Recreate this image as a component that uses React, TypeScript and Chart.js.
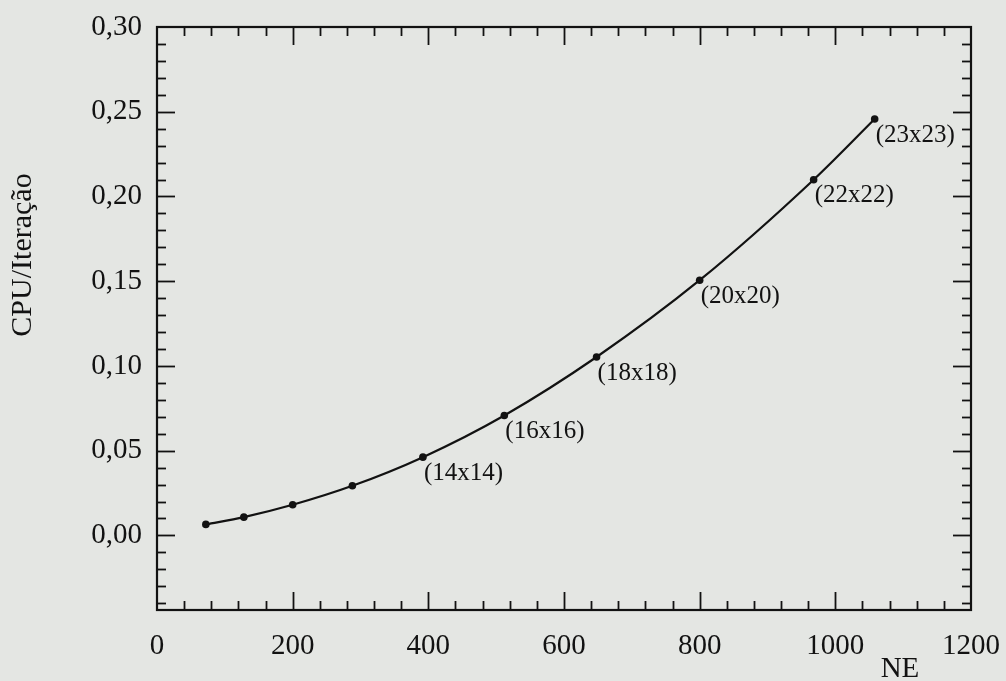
import React, { useEffect, useRef } from "react";
import { Chart, registerables } from "chart.js";

Chart.register(...registerables);

// ---- data ----
const neValues = [72, 128, 200, 288, 392, 512, 648, 800, 968, 1058];
const cpuPerIteration = [0.0065, 0.0108, 0.0181, 0.0293, 0.0462, 0.0708, 0.1053, 0.1506, 0.2099, 0.2457];
const meshLabels = ["", "", "", "", "(14x14)", "(16x16)", "(18x18)", "(20x20)", "(22x22)", "(23x23)"];
const xTickValues = [0, 200, 400, 600, 800, 1000, 1200];
const yTickValues = [0, 0.05, 0.1, 0.15, 0.2, 0.25, 0.3];
const xTitle = "NE";
const yTitle = "CPU/Iteração";

const INK = "#121212";
const BG = "#e4e6e3";
const FONT = "'Liberation Serif', 'Times New Roman', serif";

const bgPlugin = {
  id: "bg",
  beforeDraw(chart: any) {
    const ctx = chart.ctx;
    ctx.save();
    ctx.fillStyle = BG;
    ctx.fillRect(0, 0, chart.width, chart.height);
    ctx.restore();
  },
};

const framePlugin = {
  id: "frame",
  afterDraw(chart: any) {
    const ctx = chart.ctx;
    const xs = chart.scales.x;
    const ys = chart.scales.y;
    const { left, right, top, bottom } = chart.chartArea;
    ctx.save();
    ctx.strokeStyle = INK;
    ctx.lineWidth = 1.8;
    const line = (x1: number, y1: number, x2: number, y2: number) => {
      ctx.beginPath();
      ctx.moveTo(x1, y1);
      ctx.lineTo(x2, y2);
      ctx.stroke();
    };
    // x minor ticks every 40, major every 200
    for (let k = 1; k < 30; k++) {
      const v = k * 40;
      const major = k % 5 === 0;
      const L = major ? 18 : 9;
      const px = Math.round(xs.getPixelForValue(v)) + 0.5;
      line(px, bottom, px, bottom - L);
      line(px, top, px, top + L);
    }
    // y minor ticks every 0.01, major every 0.05
    for (let k = -4; k < 30; k++) {
      const v = k / 100;
      const major = k % 5 === 0;
      const L = major ? 18 : 9;
      const py = Math.round(ys.getPixelForValue(v)) + 0.5;
      line(left, py, left + L, py);
      line(right, py, right - L, py);
    }
    ctx.lineWidth = 2.2;
    ctx.strokeRect(left, top, right - left, bottom - top);

    // titles
    ctx.fillStyle = INK;
    ctx.font = `29px ${FONT}`;
    ctx.textAlign = "center";
    ctx.textBaseline = "alphabetic";
    ctx.fillText(xTitle, 900, 677);

    ctx.save();
    ctx.translate(23, 255);
    ctx.rotate(-Math.PI / 2);
    ctx.textBaseline = "middle";
    ctx.font = `30px ${FONT}`;
    ctx.fillText(yTitle, 0, 0);
    ctx.restore();

    // point annotations
    const meta = chart.getDatasetMeta(0);
    ctx.font = `25px ${FONT}`;
    ctx.textAlign = "left";
    ctx.textBaseline = "middle";
    meta.data.forEach((pt: any, i: number) => {
      const label = meshLabels[i];
      if (label) ctx.fillText(label, pt.x + 1, pt.y + 16);
    });
    ctx.restore();
  },
};

export default function App() {
  const ref = useRef<HTMLCanvasElement | null>(null);
  useEffect(() => {
    if (!ref.current) return;
    const chart = new Chart(ref.current, {
      type: "line",
      data: {
        datasets: [
          {
            data: neValues.map((x, i) => ({ x, y: cpuPerIteration[i] })),
            borderColor: INK,
            backgroundColor: INK,
            borderWidth: 2.2,
            pointRadius: 3.8,
            pointBackgroundColor: INK,
            pointBorderWidth: 0,
            cubicInterpolationMode: "monotone",
            fill: false,
          },
        ],
      },
      options: {
        animation: false,
        responsive: true,
        maintainAspectRatio: false,
        devicePixelRatio: 1,
        layout: { padding: { top: 27, right: 35, left: 0, bottom: 0 } },
        plugins: { legend: { display: false }, tooltip: { enabled: false } },
        scales: {
          x: {
            type: "linear",
            min: 0,
            max: 1200,
            grid: {
              display: true,
              drawOnChartArea: false,
              drawTicks: true,
              tickLength: 19,
              color: "rgba(0,0,0,0)",
            },
            border: { display: false },
            afterBuildTicks: (s: any) => {
              s.ticks = xTickValues.map((value) => ({ value }));
            },
            afterFit: (s: any) => {
              s.height = 71;
            },
            ticks: {
              color: INK,
              padding: 0,
              maxRotation: 0,
              autoSkip: false,
              font: { family: FONT, size: 29 },
              callback: (v: any) => String(v),
            },
          },
          y: {
            type: "linear",
            min: -0.044,
            max: 0.3,
            grid: {
              display: true,
              drawOnChartArea: false,
              drawTicks: true,
              tickLength: 15,
              color: "rgba(0,0,0,0)",
            },
            border: { display: false },
            afterBuildTicks: (s: any) => {
              s.ticks = yTickValues.map((value) => ({ value }));
            },
            afterFit: (s: any) => {
              s.width = 157;
            },
            ticks: {
              color: INK,
              padding: 0,
              autoSkip: false,
              font: { family: FONT, size: 29 },
              callback: (v: any) => Number(v).toFixed(2).replace(".", ","),
            },
          },
        },
      },
      plugins: [bgPlugin, framePlugin],
    });
    return () => chart.destroy();
  }, []);

  return (
    <div style={{ position: "fixed", left: 0, top: 0, width: 1006, height: 681, background: BG }}>
      <canvas ref={ref} />
    </div>
  );
}
